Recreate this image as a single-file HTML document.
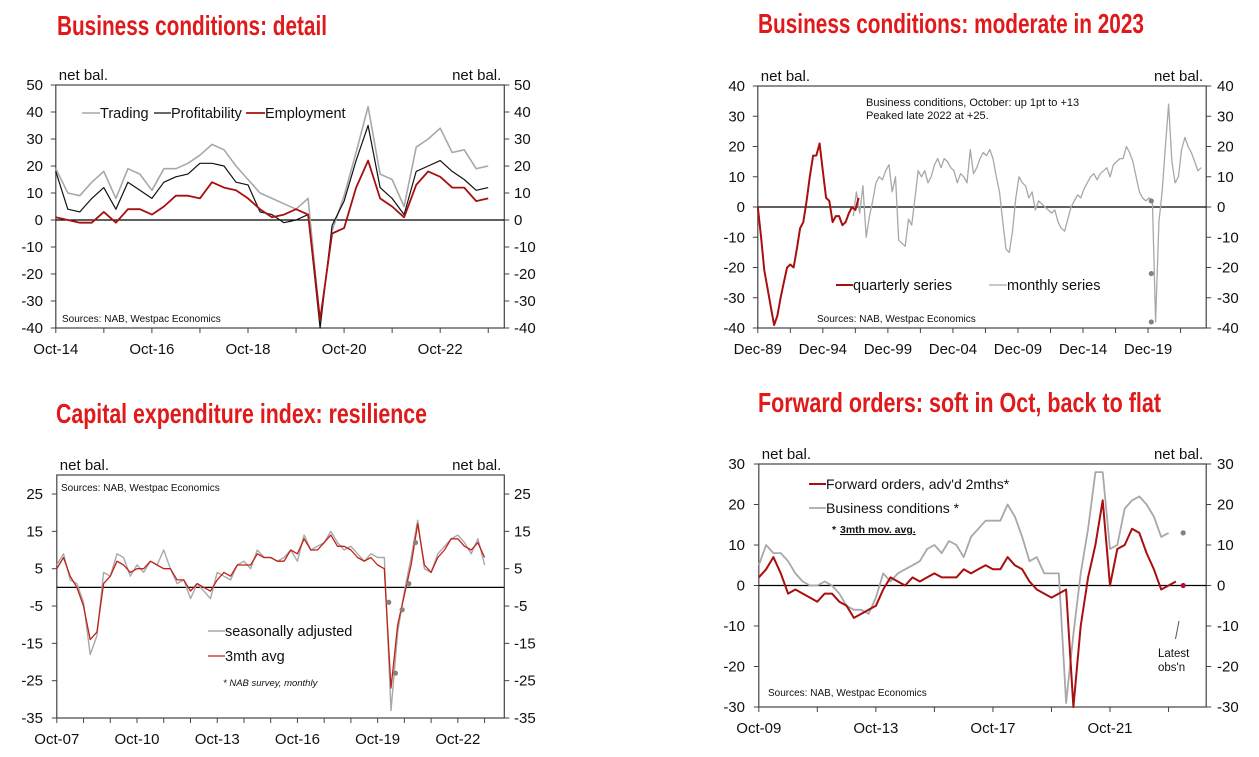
<!DOCTYPE html>
<html><head><meta charset="utf-8"><style>
html,body{margin:0;padding:0;background:#fff;}
svg{display:block;font-family:"Liberation Sans",Arial,sans-serif;}
.tk{font-size:15px;fill:#111;}
.ttl{font-family:"Liberation Sans Narrow","Liberation Sans",sans-serif;font-weight:bold;font-size:28px;fill:#e0191b;}
.lg{font-size:14.5px;fill:#111;}
.src{font-size:10px;fill:#111;}
</style></head><body>
<svg id="c" width="1259" height="757" viewBox="0 0 1259 757" xmlns="http://www.w3.org/2000/svg">
<text class="ttl" x="57" y="35" textLength="270" lengthAdjust="spacingAndGlyphs">Business conditions: detail</text>
<text class="ttl" x="758" y="33" textLength="386" lengthAdjust="spacingAndGlyphs">Business conditions: moderate in 2023</text>
<text class="ttl" x="56" y="423" textLength="371" lengthAdjust="spacingAndGlyphs">Capital expenditure index: resilience</text>
<text class="ttl" x="758" y="412" textLength="403" lengthAdjust="spacingAndGlyphs">Forward orders: soft in Oct, back to flat</text>
</svg>
<script>
// ---------- Panel 1 data (quarterly steps from Oct-14) ----------
const p1Trading=[19,10,9,14,18,8,19,17,11,19,19,21,24,28,26,20,15,10,8,6,4,8,-38,-4,9,25,42,17,15,5,27,30,34,25,26,19,20];
const p1Profit=[18,4,3,8,12,4,14,11,8,14,16,17,21,21,20,14,13,3,2,-1,0,2,-40,-2,7,22,35,12,8,2,18,20,22,18,15,11,12];
const p1Employ=[1,0,-1,-1,3,-1,4,4,2,5,9,9,8,14,12,11,8,4,1,2,4,2,-37,-5,-3,12,22,8,5,1,13,18,16,12,12,7,8];
const p1YTicks=[50,40,30,20,10,0,-10,-20,-30,-40];
const p1XLabels=["Oct-14","Oct-16","Oct-18","Oct-20","Oct-22"];
// ---------- Panel 2 data ----------
const p2Quarterly=[0,-10,-21,-27,-33,-39,-36,-30,-25,-20,-19,-20,-14,-7,-5,2,10,17,17,21,12,3,2,-5,-3,-3,-6,-5,-2,0,-1,3];
const p2Monthly=[-3,5,-2,7,-10,-3,2,8,10,9,12,14,5,10,-11,-12,-13,-4,-6,3,12,10,12,8,10,14,16,13,16,15,13,12,8,11,10,8,19,11,13,16,18,17,19,16,10,5,-5,-14,-15,-8,3,10,8,7,3,5,-1,2,1,0,-1,-2,-1,-5,-7,-8,-4,0,2,4,3,6,8,10,11,9,11,12,13,10,14,15,16,16,20,18,15,10,5,3,2,3,2,-38,-5,5,20,34,15,8,10,19,23,20,18,15,12,13];
const p2Dots=[2,-22,-38];
const p2YTicks=[40,30,20,10,0,-10,-20,-30,-40];
const p2XLabels=["Dec-89","Dec-94","Dec-99","Dec-04","Dec-09","Dec-14","Dec-19"];
// ---------- Panel 3 data (quarterly steps from Oct-07) ----------
const p3SA=[6,9,2,1,-4,-18,-13,4,3,9,8,3,6,4,7,6,10,5,1,2,-3,1,-1,-3,4,3,2,6,7,5,10,8,8,7,8,10,7,14,10,11,12,15,12,10,11,9,7,9,8,8,-33,-12,-1,8,18,5,4,9,11,13,14,12,9,13,6];
const p3Avg=[5,8,3,0,-5,-14,-12,1,3,7,6,4,5,5,7,6,5,5,2,2,-1,1,0,-1,2,4,3,6,6,6,9,8,8,7,7,10,9,13,10,10,12,14,11,11,10,8,7,8,6,5,-27,-10,-2,6,17,6,4,8,10,13,13,11,10,12,8];
const p3DotMonths=[149,152,155,158,161];
const p3DotVals=[-4,-23,-6,1,12];
const p3YTicks=[25,15,5,-5,-15,-25,-35];
const p3XLabels=["Oct-07","Oct-10","Oct-13","Oct-16","Oct-19","Oct-22"];
// ---------- Panel 4 data (quarterly steps from Oct-09) ----------
const p4Orders=[2,4,7,3,-2,-1,-2,-3,-4,-2,-2,-4,-5,-8,-7,-6,-5,-1,2,1,0,2,1,2,3,2,2,2,4,3,4,5,4,4,7,5,4,1,-1,-2,-3,-2,-1,-30,-10,2,10,21,0,9,10,14,13,8,4,-1,0,1];
const p4Conditions=[5,10,8,8,6,3,1,0,0,1,0,-2,-5,-6,-6,-7,-3,3,1,3,4,5,6,9,10,8,11,10,7,12,14,16,16,16,20,17,12,6,7,3,3,3,-29,-12,3,14,28,28,9,10,19,21,22,20,17,12,13];
const p4Latest=[13,0];
const p4YTicks=[30,20,10,0,-10,-20,-30];
const p4XLabels=["Oct-09","Oct-13","Oct-17","Oct-21"];

const NS="http://www.w3.org/2000/svg";
const svg=document.getElementById('c');
function mk(tag,attrs,parent){const e=document.createElementNS(NS,tag);for(const k in attrs)e.setAttribute(k,attrs[k]);(parent||svg).appendChild(e);return e;}
function txt(s,attrs,parent){const e=mk('text',attrs,parent);e.textContent=s;return e;}

function panel(cfg){
  const g=mk('g',{});
  
  
  const X=m=>cfg.x0+m*cfg.ppm;
  const Y=v=>cfg.yb-(v-cfg.ymin)*(cfg.yb-cfg.yt)/(cfg.ymax-cfg.ymin);
  cfg.X=X;cfg.Y=Y;
  const frame=mk('rect',{x:cfg.x0,y:cfg.yt,width:cfg.x1-cfg.x0,height:cfg.yb-cfg.yt,fill:'none',stroke:'#444','stroke-width':1.2},g);
  
  
  cfg.yTicks.forEach(v=>{
    const y=Y(v);
    const t1=mk('line',{x1:cfg.x0-5,x2:cfg.x0,y1:y,y2:y,stroke:'#444'},g);
    
    const t2=mk('line',{x1:cfg.x1,x2:cfg.x1+5,y1:y,y2:y,stroke:'#444'},g);
    
    const l=txt(String(v),{class:'tk',x:cfg.lx,y:y+5,'text-anchor':'end'},g);
    
    const r=txt(String(v),{class:'tk',x:cfg.rx,y:y+5},g);
    
  });
  for(let m=0;X(m)<=cfg.x1-2;m+=cfg.tickStep){
    const t=mk('line',{x1:X(m),x2:X(m),y1:cfg.yb,y2:cfg.yb+5,stroke:'#444'},g);
    
  }
  cfg.xLabels.forEach((s,i)=>{
    const l=txt(s,{class:'tk',x:X(i*cfg.labelStep),y:cfg.yb+26,'text-anchor':'middle'},g);
    
  });
  const z=mk('line',{x1:cfg.x0,x2:cfg.x1,y1:Y(0),y2:Y(0),stroke:'#000','stroke-width':1.2},g);
  
  const nl=txt('net bal.',{class:'tk',x:cfg.x0+3,y:cfg.yt-5},g);
  
  const nr=txt('net bal.',{class:'tk',x:cfg.x1-3,y:cfg.yt-5,'text-anchor':'end'},g);
  
  cfg.g=g;
  return cfg;
}
function series(cfg,vals,start,step,color,w,name){
  const pts=vals.map((v,i)=>cfg.X(start+i*step).toFixed(1)+','+cfg.Y(v).toFixed(1)).join(' ');
  const p=mk('polyline',{points:pts,fill:'none',stroke:color,'stroke-width':w,'stroke-linejoin':'round'},cfg.g);
  
  
}
function dot(cfg,m,v,color,name){
  const c=mk('circle',{cx:cfg.X(m),cy:cfg.Y(v),r:2.6,fill:color},cfg.g);
  
  
}
function legLine(g,x1,x2,y,color,w){
  const l=mk('line',{x1:x1,x2:x2,y1:y,y2:y,stroke:color,'stroke-width':w},g);
  
  
}
function label(g,s,attrs,name){const t=txt(s,attrs,g);return t;}

const RED='#a80f0f', GREY='#a8a8a8';

// Panel 1
const P1=panel({name:'panel-business-conditions-detail',x0:55.8,x1:504.3,ppm:4.004,yt:85,yb:328,ymin:-40,ymax:50,yTicks:p1YTicks,xLabels:p1XLabels,labelStep:24,tickStep:12,lx:43,rx:514});
series(P1,p1Trading,0,3,GREY,1.6,'trading-line');
series(P1,p1Profit,0,3,'#111',1.2,'profitability-line');
series(P1,p1Employ,0,3,RED,1.8,'employment-line');
legLine(P1.g,82,100,113,GREY,1.6);label(P1.g,'Trading',{class:'lg',x:100,y:118},'legend-trading');
legLine(P1.g,154,171,113,'#111',1.2);label(P1.g,'Profitability',{class:'lg',x:171,y:118},'legend-profitability');
legLine(P1.g,246,265,113,RED,1.8);label(P1.g,'Employment',{class:'lg',x:265,y:118},'legend-employment');
label(P1.g,'Sources:  NAB, Westpac Economics',{class:'src',x:62,y:322},'sources-note');

// Panel 2
const P2=panel({name:'panel-business-conditions-moderate',x0:757.8,x1:1206.2,ppm:1.084,yt:86,yb:328,ymin:-40,ymax:40,yTicks:p2YTicks,xLabels:p2XLabels,labelStep:60,tickStep:30,lx:745,rx:1217});
series(P2,p2Monthly,88,3,GREY,1.3,'monthly-series-line');
series(P2,p2Quarterly,0,3,RED,2,'quarterly-series-line');
p2Dots.forEach(v=>dot(P2,363,v,'#8c7f7a','covid-dot'));
label(P2.g,'Business conditions, October: up 1pt to +13',{class:'src',x:866,y:106,style:'font-size:11px'},'annotation-line-1');
label(P2.g,'Peaked late 2022 at +25.',{class:'src',x:866,y:119,style:'font-size:11px'},'annotation-line-2');
legLine(P2.g,836,853,285,RED,2);label(P2.g,'quarterly series',{class:'lg',x:853,y:290},'legend-quarterly');
legLine(P2.g,989,1007,285,GREY,1.3);label(P2.g,'monthly series',{class:'lg',x:1007,y:290},'legend-monthly');
label(P2.g,'Sources:  NAB, Westpac Economics',{class:'src',x:817,y:322},'sources-note');

// Panel 3
const P3=panel({name:'panel-capex-index',x0:56.8,x1:504.3,ppm:2.228,yt:475,yb:718,ymin:-35,ymax:30.1,yTicks:p3YTicks,xLabels:p3XLabels,labelStep:36,tickStep:12,lx:43,rx:514});
series(P3,p3SA,0,3,GREY,1.4,'seasonally-adjusted-line');
series(P3,p3Avg,0,3,'#c0221a',1.3,'3mth-avg-line');
p3DotVals.forEach((v,i)=>dot(P3,p3DotMonths[i],v,'#8c7f7a','quarterly-dot'));
label(P3.g,'Sources:  NAB, Westpac Economics',{class:'src',x:61,y:491},'sources-note');
legLine(P3.g,208,225,631,GREY,1.4);label(P3.g,'seasonally adjusted',{class:'lg',x:225,y:636},'legend-seasonally-adjusted');
legLine(P3.g,208,225,656,'#c0221a',1.3);label(P3.g,'3mth avg',{class:'lg',x:225,y:661},'legend-3mth-avg');
label(P3.g,'* NAB survey, monthly',{class:'src',x:223,y:686,style:'font-style:italic;font-size:9.5px'},'survey-note');

// Panel 4
const P4=panel({name:'panel-forward-orders',x0:758.8,x1:1206.2,ppm:2.439,yt:464,yb:707,ymin:-30,ymax:30,yTicks:p4YTicks,xLabels:p4XLabels,labelStep:48,tickStep:24,lx:745,rx:1217});
series(P4,p4Conditions,0,3,GREY,1.8,'business-conditions-line');
series(P4,p4Orders,0,3,RED,2,'forward-orders-line');
dot(P4,174,p4Latest[0],'#8c7f7a','latest-conditions-dot');
dot(P4,174,p4Latest[1],'#b0103a','latest-orders-dot');
legLine(P4.g,809,826,484,RED,2);label(P4.g,"Forward orders, adv'd 2mths*",{class:'lg',x:826,y:489,style:'font-size:14px'},'legend-forward-orders');
legLine(P4.g,809,826,508,GREY,1.8);label(P4.g,'Business conditions *',{class:'lg',x:826,y:513,style:'font-size:14px'},'legend-business-conditions');
label(P4.g,'* ',{class:'src',x:832,y:533,style:'font-size:10.5px;font-weight:bold'},'avg-note-star');
label(P4.g,'3mth mov. avg.',{class:'src',x:840,y:533,style:'font-size:10.5px;font-weight:bold;text-decoration:underline'},'avg-note');
const al=mk('line',{x1:1179,y1:621,x2:1175.5,y2:639,stroke:'#555','stroke-width':1},P4.g);


label(P4.g,'Latest',{class:'src',x:1158,y:657,style:'font-size:11.5px'},'latest-label');
label(P4.g,"obs'n",{class:'src',x:1158,y:671,style:'font-size:11.5px'},'latest-label-2');
label(P4.g,'Sources:  NAB, Westpac Economics',{class:'src',x:768,y:696},'sources-note');
</script>
</body></html>
